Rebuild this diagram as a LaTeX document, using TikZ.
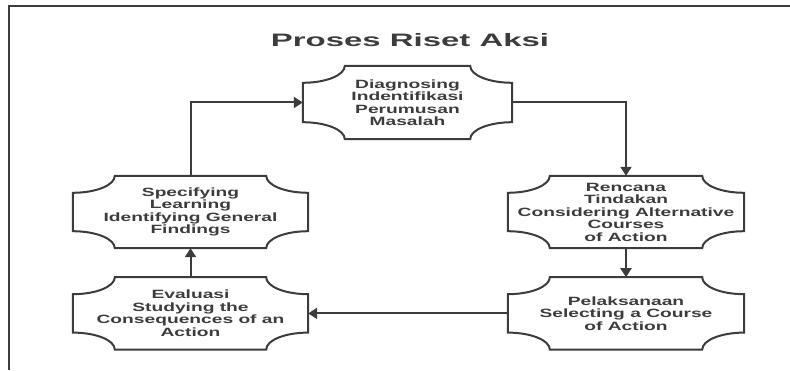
\documentclass[tikz,border=0pt]{standalone}
\usepackage{fontspec}
\setmainfont{Liberation Sans}
\newfontfamily\boxfont{Liberation Sans}[FakeStretch=1.6]
\newfontfamily\titlefont{Liberation Sans}[FakeStretch=1.83]
\usetikzlibrary{arrows.meta,positioning}
\definecolor{inkgrey}{HTML}{3C3C3C}

% corner cut of the boxes
\newcommand{\RisetCutX}{42pt}
\newcommand{\RisetCutY}{17pt}
% outline with concave corners around a named node
\newcommand{\PunchBox}[1]{%
  \draw[boxline] ([yshift=-\RisetCutY]#1.north west)
    arc[start angle=270,end angle=360,x radius=\RisetCutX,y radius=\RisetCutY]
    -- ([xshift=-\RisetCutX]#1.north east)
    arc[start angle=180,end angle=270,x radius=\RisetCutX,y radius=\RisetCutY]
    -- ([yshift=\RisetCutY]#1.south east)
    arc[start angle=90,end angle=180,x radius=\RisetCutX,y radius=\RisetCutY]
    -- ([xshift=\RisetCutX]#1.south west)
    arc[start angle=0,end angle=90,x radius=\RisetCutX,y radius=\RisetCutY]
    -- cycle;}

\tikzset{
  riset/.style={minimum width=236pt, minimum height=72pt, inner sep=0pt,
    align=center, text=inkgrey,
    font=\boxfont\bfseries\fontsize{12}{12.5}\selectfont},
  boxline/.style={draw=inkgrey, line width=2pt},
  flow/.style={draw=inkgrey, line width=2pt,
    -{Triangle[length=9pt,width=11pt]}}
}

\begin{document}
\begin{tikzpicture}[x=1pt,y=1pt]
    \useasboundingbox (0,0) rectangle (790,370);
    \draw[boxline] (790,364) -- (8.5,364) -- (8.5,0);

    \node[text=inkgrey, font=\titlefont\bfseries\fontsize{18}{20}\selectfont]
      (title) at (410,330) {Proses Riset Aksi};

    \node[riset, minimum width=209pt, minimum height=73pt] (diag) at (407.5,267.5)
      {Diagnosing\\Indentifikasi\\Perumusan\\Masalah};
    \node[riset] (rencana) at (626,158)
      {Rencana\\Tindakan\\Considering Alternative\\Courses\\of Action};
    \node[riset, below=29pt of rencana] (pelaksanaan)
      {Pelaksanaan\\Selecting a Course\\of Action};
    \node[riset, minimum width=235pt] (specify) at (190.5,158)
      {Specifying\\Learning\\Identifying General\\Findings};
    \node[riset, minimum width=235pt, below=29pt of specify] (evaluasi)
      {Evaluasi\\Studying the\\Consequences of an\\Action};

    \PunchBox{diag}
    \PunchBox{rencana}
    \PunchBox{pelaksanaan}
    \PunchBox{specify}
    \PunchBox{evaluasi}

    \draw[flow] (diag.east) -| (rencana.north);
    \draw[flow] (rencana.south) -- (pelaksanaan.north);
    \draw[flow] (pelaksanaan.west) -- (evaluasi.east);
    \draw[flow] (evaluasi.north) -- (specify.south);
    \draw[flow] (specify.north) |- (diag.west);
\end{tikzpicture}
\end{document}
